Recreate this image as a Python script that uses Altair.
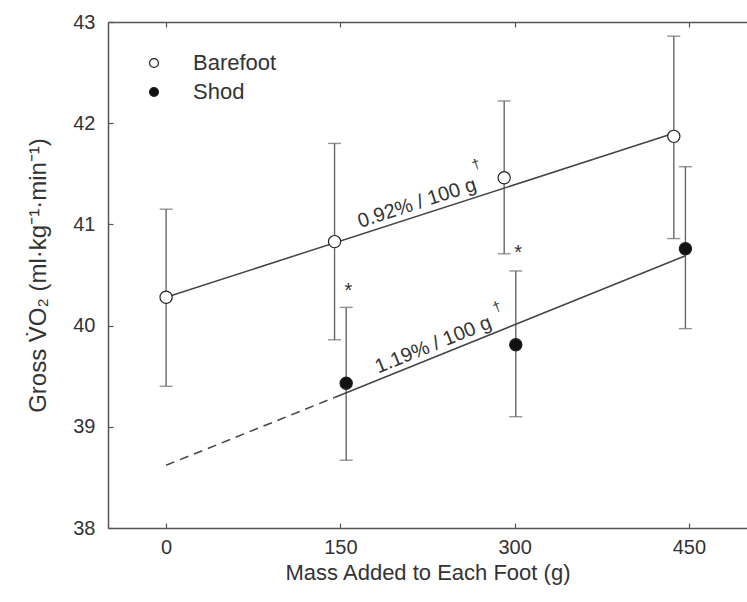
import altair as alt
import pandas as pd

# ---- data ----
x_ticks = [0, 150, 300, 450]
y_ticks = [38, 39, 40, 41, 42, 43]

barefoot_x = [0, 145, 291, 437]
barefoot_mean = [40.28, 40.83, 41.46, 41.87]
barefoot_lo = [39.40, 39.86, 40.71, 40.86]
barefoot_hi = [41.15, 41.80, 42.22, 42.86]

shod_x = [155, 301, 447]
shod_mean = [39.43, 39.81, 40.76]
shod_lo = [38.67, 39.10, 39.97]
shod_hi = [40.18, 40.54, 41.57]

fit_barefoot_x = [0, 437]
fit_barefoot_y = [40.28, 41.90]
fit_shod_dash_x = [0, 145]
fit_shod_dash_y = [38.62, 39.29]
fit_shod_x = [145, 447]
fit_shod_y = [39.29, 40.69]

star_x = [157, 303]
star_y = [40.34, 40.72]

slope_text = ["0.92% / 100 g", "1.19% / 100 g"]
slope_x = [216, 230]
slope_y = [41.21, 39.81]
dagger_x = [267, 285]
dagger_y = [41.59, 40.18]

# ---- tables ----
pts = pd.DataFrame({
    "series": ["Barefoot"] * 4 + ["Shod"] * 3,
    "x": barefoot_x + shod_x,
    "mean": barefoot_mean + shod_mean,
    "lo": barefoot_lo + shod_lo,
    "hi": barefoot_hi + shod_hi,
})
fit_b = pd.DataFrame({"x": fit_barefoot_x, "y": fit_barefoot_y})
fit_sd = pd.DataFrame({"x": fit_shod_dash_x, "y": fit_shod_dash_y})
fit_s = pd.DataFrame({"x": fit_shod_x, "y": fit_shod_y})
stars = pd.DataFrame({"x": star_x, "y": star_y, "t": ["*", "*"]})

W, H = 639, 506
FONT = "Liberation Sans, Arial, sans-serif"
TXT = "#333333"

xscale = alt.Scale(domain=[-50, 500], nice=False, zero=False)
yscale = alt.Scale(domain=[38, 43], nice=False, zero=False)

rules = alt.Chart(pts).mark_rule(color="#666666", strokeWidth=1.4).encode(
    x=alt.X("x:Q", scale=xscale, axis=alt.Axis(
        orient="bottom", values=x_ticks, title="Mass Added to Each Foot (g)",
        ticks=False, labelPadding=9, titlePadding=5, domain=True)),
    y=alt.Y("lo:Q", scale=yscale, axis=alt.Axis(
        orient="left", values=y_ticks,
        title="Gross V̇O₂ (ml·kg⁻¹·min⁻¹)", titleFontSize=24,
        ticks=False, labelPadding=13, titlePadding=22, domain=True)),
    y2="hi:Q",
)

caps_lo = alt.Chart(pts).mark_tick(orient="horizontal", size=13, thickness=1.4, color="#666666").encode(
    x=alt.X("x:Q", scale=xscale, axis=alt.Axis(
        orient="top", offset=-H, values=x_ticks, labels=False, domain=False,
        ticks=True, tickSize=5, title=None)),
    y=alt.Y("lo:Q", scale=yscale, axis=alt.Axis(
        orient="right", offset=-W, values=y_ticks, labels=False, domain=False,
        ticks=True, tickSize=5, title=None)),
)

caps_hi = alt.Chart(pts).mark_tick(orient="horizontal", size=13, thickness=1.4, color="#666666").encode(
    x=alt.X("x:Q", scale=xscale, axis=alt.Axis(
        orient="bottom", offset=-H, values=x_ticks, labels=False, domain=True,
        ticks=True, tickSize=5, title=None)),
    y=alt.Y("hi:Q", scale=yscale, axis=None),
)

def line(df, dash=None):
    kw = dict(color="#444444", strokeWidth=1.5)
    if dash:
        kw["strokeDash"] = dash
    return alt.Chart(df).mark_line(**kw).encode(
        x=alt.X("x:Q", scale=xscale, axis=None),
        y=alt.Y("y:Q", scale=yscale, axis=None),
    )

lines = line(fit_b) + line(fit_sd, [9, 6]) + line(fit_s)

points = alt.Chart(pts).mark_point(
    shape="circle", filled=True, size=150, stroke="#222222", strokeWidth=1.2, opacity=1
).encode(
    x=alt.X("x:Q", scale=xscale, axis=None),
    y=alt.Y("mean:Q", scale=yscale, axis=None),
    fill=alt.Fill("series:N", scale=alt.Scale(domain=["Barefoot", "Shod"], range=["white", "#111111"]),
                  legend=alt.Legend(orient="none", legendX=35, legendY=30, title=None,
                                    labelFontSize=22, labelColor=TXT, labelFont=FONT,
                                    symbolSize=80, symbolType="circle",
                                    symbolStrokeColor="#222222", symbolStrokeWidth=1.2,
                                    rowPadding=7, labelOffset=28, padding=0)),
)

star_layer = alt.Chart(stars).mark_text(fontSize=20, color=TXT, font=FONT, baseline="middle").encode(
    x=alt.X("x:Q", scale=xscale, axis=None),
    y=alt.Y("y:Q", scale=yscale, axis=None),
    text="t:N",
)

def label(i, angle):
    df = pd.DataFrame({"x": [slope_x[i]], "y": [slope_y[i]], "t": [slope_text[i]]})
    dg = pd.DataFrame({"x": [dagger_x[i]], "y": [dagger_y[i]], "t": ["†"]})
    a = alt.Chart(df).mark_text(fontSize=20, color=TXT, font=FONT, angle=angle,
                                 align="center", baseline="middle").encode(
        x=alt.X("x:Q", scale=xscale, axis=None),
        y=alt.Y("y:Q", scale=yscale, axis=None),
        text="t:N",
    )
    b = alt.Chart(dg).mark_text(fontSize=14, color=TXT, font=FONT, angle=angle,
                                 align="center", baseline="middle").encode(
        x=alt.X("x:Q", scale=xscale, axis=None),
        y=alt.Y("y:Q", scale=yscale, axis=None),
        text="t:N",
    )
    return a + b

chart = alt.layer(
    rules, caps_lo, caps_hi, lines, points, star_layer, label(0, 342), label(1, 338)
).resolve_axis(x="independent", y="independent").properties(
    width=W, height=H,
    autosize=alt.AutoSizeParams(type="none"),
    padding={"left": 108, "top": 22, "right": 0, "bottom": 74},
    background="white",
).configure_axis(
    grid=False, labelFont=FONT, labelFontSize=20, labelColor=TXT,
    titleFont=FONT, titleFontSize=22, titleFontWeight="normal", titleColor=TXT,
    domainColor="#555555", domainWidth=1.5, tickColor="#555555", tickWidth=1.2,
).configure_view(strokeWidth=0)

chart.save("out.html", embed_options={"renderer": "svg", "actions": False})
